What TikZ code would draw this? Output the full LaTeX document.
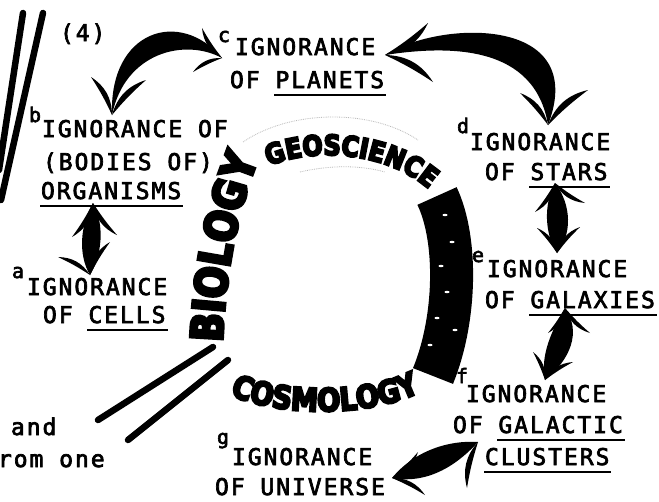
\documentclass[tikz,border=0pt]{standalone}
\usepackage{fontspec}
\usetikzlibrary{decorations.text}
\newfontfamily\typew{DejaVu Sans Mono}[LetterSpace=8.5, FakeBold=3]
\newfontfamily\supfont{DejaVu Sans Mono}[FakeBold=3]
\newfontfamily\brushfont{DejaVu Sans Bold}[FakeBold=7, FakeStretch=0.85]
\newcommand\twfont{\typew\fontsize{23}{28}\selectfont\spaceskip 15.8pt\relax}
\newcommand\supsfont{\supfont\fontsize{20}{24}\selectfont}
\newsavebox\ulbox
\newcommand\myul[1]{\sbox\ulbox{#1}\rlap{\kern-1pt\rule[-8pt]{\dimexpr\wd\ulbox+3pt\relax}{1.7pt}}\usebox\ulbox}
\newcommand\shaftfill[6]{\fill[ink] (#1) .. controls (#2) and (#3) .. (#4) .. controls (#5) and (#6) .. (#1) -- cycle;}
\newcommand\barbl[2]{\fill[ink] (#1) to[bend left=28] (#2) to[bend right=4] (#1) -- cycle;}
\newcommand\barbr[2]{\fill[ink] (#1) to[bend right=28] (#2) to[bend left=4] (#1) -- cycle;}
\begin{document}
\begin{tikzpicture}[x=1pt,y=1pt,
  ink/.style={black},
  lbl/.style={anchor=base west, inner sep=0pt, outer sep=0pt, font=\twfont},
  supl/.style={anchor=base west, inner sep=0pt, outer sep=0pt, font=\supsfont},
  slash/.style={line width=6.5pt, line cap=round},
  faint/.style={gray!55, densely dotted, line width=0.8pt}
]
\fill[white] (0,0) rectangle (659,-501);
\useasboundingbox (0,0) rectangle (659,-501);

% ---- ring of sciences ----
\draw[faint] (243,-142) .. controls (290,-110) and (370,-108) .. (418,-140);
\draw[faint] (300,-172) .. controls (330,-165) and (360,-165) .. (385,-172);
\draw[ink, line width=43pt] (437,-196) .. controls (458,-240) and (456,-320) .. (433,-376);
\foreach \p in {(445,-215),(452,-242),(441,-266),(447,-292),(437,-318),(430,-345),(455,-330)}
  \fill[white] \p ellipse (2.5 and 1.2);
\path[decorate, decoration={text along path, text align=center,
  text={|\brushfont\fontsize{44}{44}\selectfont|BIOLOGY}}]
  (222,-352) .. controls (224,-280) and (236,-210) .. (262,-150);
\path[decorate, decoration={text along path, text align=center,
  text={|\brushfont\fontsize{28}{28}\selectfont|GEOSCIENCE}}]
  (265,-168) .. controls (305,-148) and (385,-148) .. (432,-192);
\path[decorate, decoration={text along path, text align=center,
  text={|\brushfont\fontsize{32}{32}\selectfont|COSMOLOGY}}]
  (226,-393) .. controls (275,-418) and (375,-418) .. (424,-390);

% ---- slashes ----
\draw[ink, slash] (23,-13) -- (-1,-170);
\draw[ink, slash] (43,-13) -- (1,-200);
\draw[ink, slash] (213,-347) -- (98,-420);
\draw[ink, slash] (228,-360) -- (128,-440);

% ---- texts ----
\node[lbl] (four) at (60,-41) {(4)};

\node[supl] (csup) at (218,-42) {c};
\node[lbl] (c1) at (235,-55) {IGNORANCE};
\node[lbl] (c2) at (230,-88) {OF \myul{PLANETS}};

\node[supl] (dsup) at (457,-133) {d};
\node[lbl] (d1) at (470,-150) {IGNORANCE};
\node[lbl] (d2) at (485,-180) {OF \myul{STARS}};

\node[supl] (esup) at (472,-262) {e};
\node[lbl] (e1) at (487,-277) {IGNORANCE};
\node[lbl] (e2) at (485,-308) {OF \myul{GALAXIES}};

\node[supl] (fsup) at (456,-383) {f};
\node[lbl] (f1) at (466,-402) {IGNORANCE};
\node[lbl] (f2) at (453,-433) {OF \myul{GALACTIC}};
\node[lbl] (f3) at (485,-465) {\myul{CLUSTERS}};

\node[supl] (gsup) at (217,-444) {g};
\node[lbl] (g1) at (232,-465) {IGNORANCE};
\node[lbl] (g2) at (215,-495) {OF UNIVERSE};

\node[supl] (bsup) at (29,-122) {b};
\node[lbl] (b1) at (42,-137) {IGNORANCE OF};
\node[lbl] (b2) at (43,-170) {(BODIES OF)};
\node[lbl] (b3) at (41,-199) {\myul{ORGANISMS}};

\node[supl] (asup) at (12,-278) {a};
\node[lbl] (a1) at (27,-295) {IGNORANCE};
\node[lbl] (a2) at (43,-323) {OF \myul{CELLS}};

\node[lbl] (and) at (11,-435) {and};
\node[lbl] (from) at (-2,-467) {rom one};

% ---- arrow tips ----
\coordinate (bT) at (112,-115);
\coordinate (cL) at (222,-58);
\coordinate (cR) at (385,-55);
\coordinate (dT) at (548,-125);
\coordinate (dB) at (555,-183);
\coordinate (eT) at (557,-253);
\coordinate (eB) at (565,-308);
\coordinate (fT) at (545,-380);
\coordinate (fL) at (478,-442);
\coordinate (gR) at (392,-478);
\coordinate (bB) at (93,-203);
\coordinate (aT) at (90,-275);

% b <-> c
\shaftfill{bT}{109,-30}{180,-8}{cL}{185,-38}{125,-52}
\barbr{bT}{91,-77}
\barbl{bT}{146,-80}
\barbl{cL}{202,-28}
\barbr{cL}{193,-72}

% c <-> d
\shaftfill{cR}{440,-20}{590,-15}{dT}{535,-45}{450,-45}
\barbr{cR}{428,-23}
\barbl{cR}{433,-82}
\barbr{dT}{520,-93}
\barbl{dT}{588,-90}

% d <-> e
\shaftfill{dB}{572,-205}{572,-235}{eT}{545,-235}{543,-205}
\barbr{dB}{585,-203}
\barbl{dB}{535,-212}
\barbr{eT}{537,-228}
\barbl{eT}{580,-227}

% e <-> f
\shaftfill{eB}{582,-332}{570,-360}{fT}{540,-355}{552,-330}
\barbr{eB}{590,-333}
\barbl{eB}{548,-333}
\barbr{fT}{533,-352}
\barbl{fT}{573,-362}

% f <-> g
\shaftfill{gR}{415,-450}{450,-440}{fL}{460,-462}{430,-485}
\barbr{gR}{418,-452}
\barbl{gR}{425,-495}
\barbl{fL}{433,-450}
\barbr{fL}{467,-488}

% a <-> b
\shaftfill{bB}{105,-225}{102,-255}{aT}{78,-255}{80,-225}
\barbr{bB}{117,-235}
\barbl{bB}{72,-237}
\barbr{aT}{58,-257}
\barbl{aT}{110,-242}
\end{tikzpicture}
\end{document}
